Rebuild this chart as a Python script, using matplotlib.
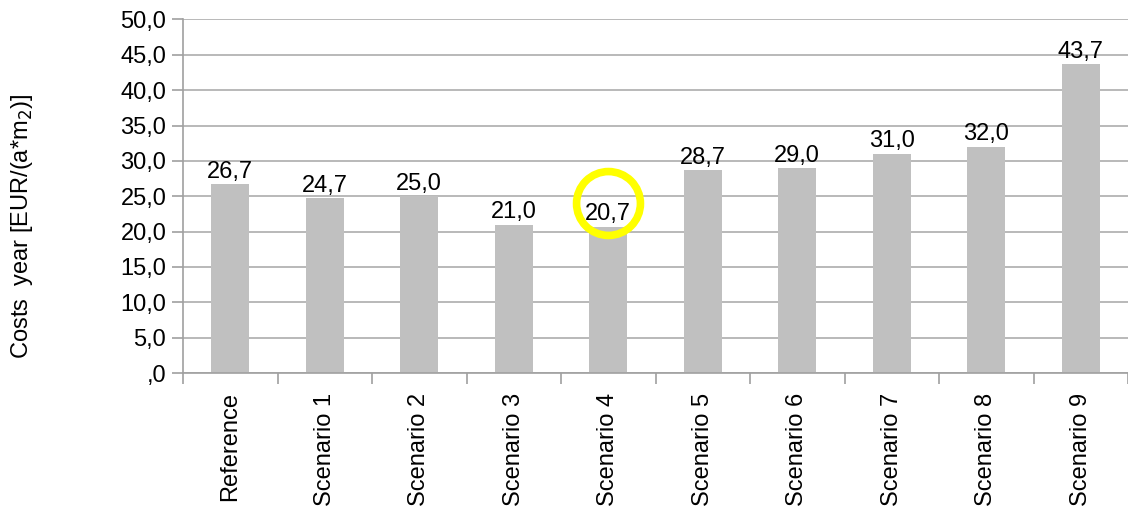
import matplotlib.pyplot as plt
from matplotlib.ticker import FixedLocator, FuncFormatter

labels = ['Reference', 'Scenario 1', 'Scenario 2', 'Scenario 3', 'Scenario 4',
          'Scenario 5', 'Scenario 6', 'Scenario 7', 'Scenario 8', 'Scenario 9']
costs = [26.7, 24.7, 25.0, 21.0, 20.7, 28.7, 29.0, 31.0, 32.0, 43.7]
highlight = 4

plt.rcParams['font.family'] = ['Liberation Sans', 'DejaVu Sans']
fs = 17

fig = plt.figure(figsize=(11.28, 5.11), dpi=100)
ax = fig.add_axes([183 / 1128, 138 / 511, 945 / 1128, 353.5 / 511])

x = range(len(labels))
ax.bar(x, costs, width=0.4, color='#c0c0c0', zorder=2)
ax.set_xlim(-0.5, len(labels) - 0.5)
ax.set_ylim(0, 50)
ax.set_yticks([i * 5 for i in range(11)])


def fmt(v, pos):
    s = '%.1f' % v
    if s.startswith('0'):
        s = s[1:]
    return s.replace('.', ',')


ax.yaxis.set_major_formatter(FuncFormatter(fmt))
ax.grid(axis='y', color='#b3b3b3', linewidth=1.3, zorder=0)

ax.set_xticks(list(x))
ax.set_xticklabels(labels, rotation=90, fontsize=fs)
ax.tick_params(axis='x', which='major', length=0, pad=14)
ax.xaxis.set_minor_locator(FixedLocator([i - 0.5 for i in range(len(labels) + 1)]))
ax.tick_params(axis='x', which='minor', length=8, width=1.2, color='#a0a0a0')
ax.tick_params(axis='y', length=8, width=1.2, color='#a0a0a0', labelsize=fs, pad=4)

for s in ['top', 'right']:
    ax.spines[s].set_visible(False)
for s in ['left', 'bottom']:
    ax.spines[s].set_color('#a0a0a0')
    ax.spines[s].set_linewidth(1.2)

for i, v in zip(x, costs):
    ax.annotate(fmt(v, None), (i, v), xytext=(0, 1), textcoords='offset points',
                ha='center', va='bottom', fontsize=fs, zorder=3)

# yellow circle around the highlighted label
ax.plot(highlight, costs[highlight] + 3.4, marker='o', markersize=46, mfc='none',
        mec='#ffff00', mew=5.5, zorder=4, clip_on=False)

fig.text(22 / 1128, 1 - 226 / 511, 'Costs  year [EUR/(a*m$_2$)]', rotation=90,
         ha='center', va='center', fontsize=fs)

plt.savefig('out.png', dpi=100)
